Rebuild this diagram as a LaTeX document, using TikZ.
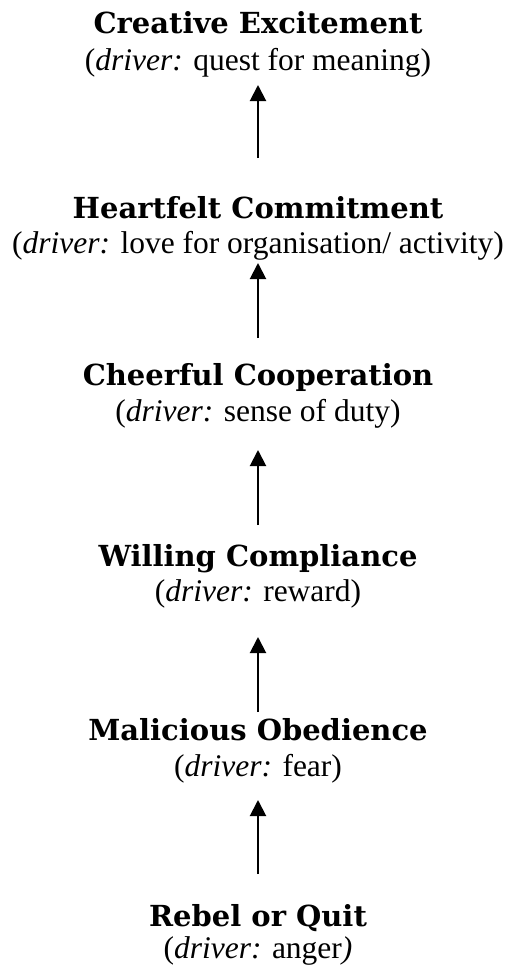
\documentclass[tikz,border=0pt]{standalone}
\usepackage{fontspec}
\setmainfont{Liberation Serif}
\newfontfamily\ttlfont{DejaVu Serif}
\usetikzlibrary{arrows.meta}
\tikzset{
  ttl/.style={anchor=base, inner sep=0pt, font=\ttlfont\bfseries\fontsize{29}{32}\selectfont},
  sub/.style={anchor=base, inner sep=0pt, font=\fontsize{31.5}{34}\selectfont},
  arr/.style={line width=2pt, -{Triangle[width=16pt,length=16pt]}}
}
\begin{document}
\begin{tikzpicture}[x=1pt,y=1pt]
\useasboundingbox (0,0) rectangle (504,-967);
\node[ttl] (t1) at (258,-33.3) {Creative Excitement};
\node[sub] (s1) at (258,-70) {(\textit{driver:} quest for meaning)};
\node[ttl] (t2) at (258,-218.3) {Heartfelt Commitment};
\node[sub] (s2) at (258,-253.3) {(\textit{driver:} love for organisation/ activity)};
\node[ttl] (t3) at (258,-385) {Cheerful Cooperation};
\node[sub] (s3) at (258,-421.7) {(\textit{driver:} sense of duty)};
\node[ttl] (t4) at (258,-566) {Willing Compliance};
\node[sub] (s4) at (258,-601.7) {(\textit{driver:} reward)};
\node[ttl] (t5) at (258,-740) {Malicious Obedience};
\node[sub] (s5) at (258,-776.7) {(\textit{driver:} fear)};
\node[ttl] (t6) at (258,-926.7) {Rebel or Quit};
\node[sub] (s6) at (258,-958) {(\textit{driver:} anger\textit{)}};
\draw[arr] ([yshift=60.3pt]t2.base) -- ([yshift=-15pt]s1.base);
\draw[arr] ([yshift=47pt]t3.base) -- ([yshift=-9.7pt]s2.base);
\draw[arr] ([yshift=41pt]t4.base) -- ([yshift=-28.3pt]s3.base);
\draw[arr] ([yshift=28pt]t5.base) -- ([yshift=-35.3pt]s4.base);
\draw[arr] ([yshift=52.7pt]t6.base) -- ([yshift=-23.3pt]s5.base);
\end{tikzpicture}
\end{document}
